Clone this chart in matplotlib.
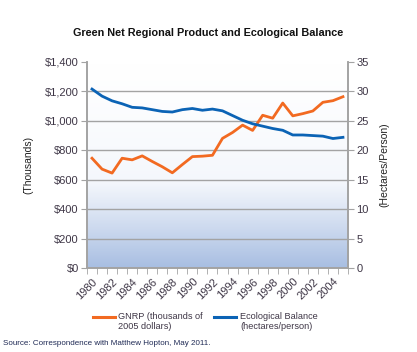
import numpy as np
import matplotlib
matplotlib.use("Agg")
import matplotlib.pyplot as plt
from matplotlib.colors import LinearSegmentedColormap
from matplotlib.lines import Line2D

plt.rcParams['font.family'] = ['Liberation Sans', 'DejaVu Sans']

years = list(range(1980, 2006))
gnrp = [746, 672, 645, 746, 735, 762, 724, 688, 647, 703, 757, 760, 766, 881, 921,
        971, 935, 1038, 1018, 1121, 1034, 1049, 1067, 1126, 1137, 1164]
eco = [30.4, 29.2, 28.4, 27.9, 27.3, 27.2, 26.9, 26.6, 26.5, 26.9, 27.1, 26.8, 27.0,
       26.7, 25.9, 25.1, 24.5, 24.1, 23.7, 23.4, 22.6, 22.6, 22.5, 22.4, 22.0, 22.2]
left_ticks = [0, 200, 400, 600, 800, 1000, 1200, 1400]
right_ticks = [0, 5, 10, 15, 20, 25, 30, 35]
legend_labels = ['GNRP (thousands of\n2005 dollars)', 'Ecological Balance\n(hectares/person)']

orange = '#f26a21'
blue = '#0b63b5'
txt = '#3e3646'
grid = '#a3a3a3'

fig = plt.figure(figsize=(4.17, 3.52), dpi=100)
fig.patch.set_facecolor('white')
ax = fig.add_axes([0.2086, 0.2386, 0.6259, 0.5853])
ax2 = ax.twinx()

x = np.arange(len(years))
ax.set_xlim(-0.5, len(years) - 0.5)

# gradient background: white at top, light blue at bottom
cmap = LinearSegmentedColormap.from_list('bg', ['#ffffff', '#f4f7fc', '#a8bee2'])
grad = (1 - np.linspace(0, 1, 256).reshape(-1, 1)) ** 1.3
ax.imshow(grad, aspect='auto', cmap=cmap, extent=[-0.5, len(years) - 0.5, 0, 1400],
          zorder=0, origin='lower')
ax.set_ylim(0, 1400)
ax2.set_ylim(0, 35)

for v in left_ticks[1:-1]:
    ax.axhline(v, color=grid, lw=1.0, zorder=1)

ax.plot(x, gnrp, color=orange, lw=2, zorder=3)
ax2.plot(x, eco, color=blue, lw=2, zorder=3)

ax.set_yticks(left_ticks)
ax.set_yticklabels(['$' + format(v, ',') for v in left_ticks])
ax2.set_yticks(right_ticks)
ax.set_xticks(x[::2])
ax.set_xticklabels([str(y) for y in years[::2]], rotation=45, ha='right',
                   rotation_mode='anchor')
ax.set_xticks(np.arange(-0.5, len(years)), minor=True)
ax.tick_params(axis='x', which='major', length=0, pad=6, labelsize=8, labelcolor=txt)
ax.tick_params(axis='x', which='minor', length=4, color=grid)
ax.tick_params(axis='y', length=4, color=grid, labelsize=8, labelcolor=txt, pad=2)
ax2.tick_params(axis='y', length=4, color=grid, labelsize=8, labelcolor=txt, pad=2)

for a in (ax, ax2):
    a.spines['top'].set_visible(False)
    for s in ('left', 'right', 'bottom'):
        a.spines[s].set_color(grid)
        a.spines[s].set_linewidth(1.2)

ax.set_ylabel('(Thousands)', fontsize=7.5, color='#222222', labelpad=8)
ax2.set_ylabel('(Hectares/Person)', fontsize=7.5, color='#222222', labelpad=8)

fig.text(0.5, 0.905, 'Green Net Regional Product and Ecological Balance',
         ha='center', va='center', fontsize=7.8, fontweight='bold', color='#111111')

# legend: handle sits beside the first line of each two-line label
for (hx, tx), col, lab in zip([(0.223, 0.283), (0.513, 0.576)], [orange, blue], legend_labels):
    fig.add_artist(Line2D([hx, hx + 0.053], [0.100, 0.100], color=col, lw=2.2,
                          transform=fig.transFigure))
    fig.text(tx, 0.0866, lab, fontsize=6.6, color=txt, ha='left', va='center',
             linespacing=1.25)

fig.text(0.008, 0.025, 'Source: Correspondence with Matthew Hopton, May 2011.',
         fontsize=5.8, color='#1f2a55', ha='left', va='center')

fig.savefig('out.png', dpi=100)
